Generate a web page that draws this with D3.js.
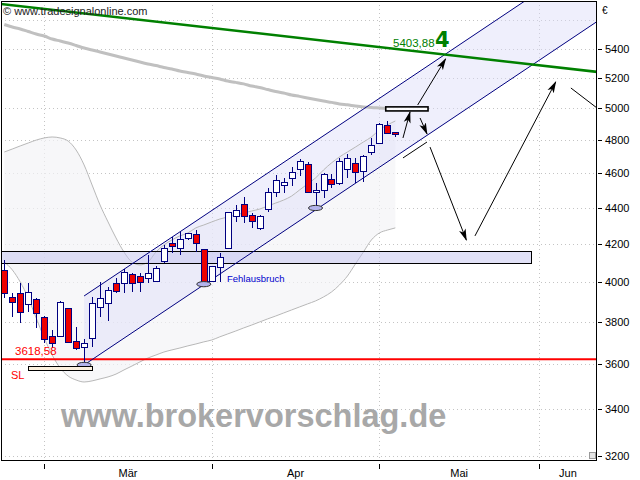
<!DOCTYPE html>
<html><head><meta charset="utf-8">
<script src="https://cdn.jsdelivr.net/npm/d3@7"></script>
<style>body{margin:0;background:#fff;}svg{display:block;}</style>
</head><body><svg id="chart" width="640" height="480"></svg>
<script>
// ---------- DATA ----------
const opens  = [4064,3925,3945,3890,3915,3825,3734,3734,3870,3709,3681,3724,3875,3895,3996,3996,4043,4032,4022,4006,4110,4207,4180,4234,4256,4174,4006,4079,4180,4355,4423,4361,4289,4394,4491,4532,4573,4626,4656,4491,4503,4567,4543,4626,4662,4614,4728,4783,4895,4851];
const highs  = [4116,3945,3996,3996,3920,3830,3762,3905,3872,3777,3719,3925,4001,3975,4022,4069,4048,4048,4143,4084,4196,4240,4266,4263,4277,4176,4086,4153,4380,4417,4463,4372,4361,4514,4591,4573,4638,4686,4668,4543,4602,4597,4692,4716,4692,4710,4814,4907,4920,4851];
const lows   = [3920,3825,3796,3850,3772,3700,3676,3729,3700,3667,3597,3681,3825,3806,3945,3945,3950,3950,3996,4001,4100,4153,4143,4223,4158,3986,4003,4001,4178,4322,4316,4289,4280,4377,4463,4486,4526,4585,4486,4400,4457,4514,4532,4573,4543,4549,4710,4783,4839,4820];
const closes = [3945,3900,3850,3950,3845,3719,3700,3900,3705,3676,3700,3895,3920,3960,3955,4053,3996,4001,4048,4074,4180,4190,4229,4261,4207,3996,4084,4132,4377,4389,4355,4327,4355,4491,4561,4549,4608,4674,4491,4503,4597,4538,4674,4692,4608,4704,4771,4901,4845,4839];
const movingAvg = [5569,5551,5537,5519,5501,5487,5466,5452,5438,5421,5403,5390,5376,5362,5348,5334,5321,5307,5294,5283,5270,5260,5246,5236,5226,5213,5203,5193,5179,5170,5160,5146,5136,5123,5110,5100,5087,5078,5068,5058,5048,5039,5029,5023,5016,5010,5006,5003,5000];
const bandUpper = [4728,4746,4765,4783,4801,4814,4820,4814,4795,4740,4650,4532,4417,4322,4234,4158,4105,4090,4105,4158,4196,4223,4245,4261,4289,4305,4322,4338,4349,4361,4372,4383,4394,4411,4428,4445,4468,4503,4538,4573,4620,4662,4698,4728,4758,4789,4820,4864,4895,4920];
const bandLower = [4105,4064,4001,3920,3820,3724,3643,3583,3546,3528,3519,3524,3533,3542,3555,3574,3592,3611,3629,3643,3657,3667,3676,3686,3695,3705,3714,3729,3743,3757,3772,3786,3801,3816,3830,3845,3860,3875,3890,3905,3925,3950,3986,4032,4095,4158,4223,4261,4277,4289];
const monthTickIdx = [5,26,47,67];
const monthLabels = ["Mär","Apr","Mai","Jun"];
const priceTicks = [3200,3400,3600,3800,4000,4200,4400,4600,4800,5000,5200,5400];
const gridExtra = [5600];
const lastIndexDomain = [0,49];
// annotations in (index, value)
const stopLoss = 3618.58;
const stopLossBox = [[2.97,3592],[10.99,3574]];
const resistanceZone = [[-2,4165],[66,4102]];
const channelUpper = [[10,3930],[74.3,6108]];
const channelLower = [[10,3597],[74.3,5591]];
const trendGreen = [[-0.45,5718],[74.3,5240]];
const targetBox = [[47.8,5010],[53.1,4984]];
const lowMarks = [[10,3597],[25,3990],[39,4400]];
const arrows = [
  [[51.8,5022],[55.3,5328]],
  [[49.96,4814],[50.84,4977]],
  [[52.1,4939],[52.97,4839]],
  [[53.35,4758],[57.9,4223]],
  [[58.98,4245],[69.1,5173]]
];
const plainLines = [
  [[49.96,4692],[52.97,4789]],
  [[71.0,5133],[74.6,4990]]
];
const targetLabel = "5403,88";
const waveLabel = "4";

// ---------- SCALES ----------
const W=640,H=480;
const plot={l:1,t:1,r:597,b:460};
const x = d3.scaleLinear().domain(lastIndexDomain).range([4.3, 4.3+7.98*49]);
const y = d3.scaleLog().domain([3200,5400]).range([456,48.5]);

const svg = d3.select("#chart");
svg.append("rect").attr("width",W).attr("height",H).attr("fill","#fff");
const defs = svg.append("defs");
defs.append("clipPath").attr("id","clip").append("rect")
  .attr("x",plot.l).attr("y",plot.t).attr("width",plot.r-plot.l).attr("height",plot.b-plot.t);
defs.append("marker").attr("id","ah").attr("viewBox","0 0 12 8").attr("refX",11).attr("refY",4)
  .attr("markerWidth",12).attr("markerHeight",8).attr("markerUnits","userSpaceOnUse").attr("orient","auto")
  .append("path").attr("d","M0,0.5 L12,4 L0,7.5 L3,4 Z").attr("fill","#000");

const g = svg.append("g").attr("clip-path","url(#clip)");

// grid
const gridVals = priceTicks.concat(gridExtra);
g.selectAll(".hg").data(gridVals).enter().append("line")
  .attr("x1",plot.l).attr("x2",plot.r)
  .attr("y1",d=>Math.round(y(d))+0.5).attr("y2",d=>Math.round(y(d))+0.5)
  .attr("stroke","#c4c4c4").attr("stroke-dasharray","1,3");
g.selectAll(".vg").data(monthTickIdx).enter().append("line")
  .attr("y1",plot.t).attr("y2",plot.b)
  .attr("x1",d=>Math.round(x(d))+0.5).attr("x2",d=>Math.round(x(d))+0.5)
  .attr("stroke","#c4c4c4").attr("stroke-dasharray","1,3");

// bollinger fill
const idx = d3.range(bandUpper.length);
g.append("path").datum(idx)
  .attr("d", d3.area().x(i=>x(i)).y0(i=>y(bandLower[i])).y1(i=>y(bandUpper[i])).curve(d3.curveMonotoneX))
  .attr("fill","#f4f4f7").attr("opacity",0.7);

// channel fill
const chPoly = [channelUpper[0],channelUpper[1],channelLower[1],channelLower[0]];
g.append("path")
  .attr("d", "M"+chPoly.map(p=>[x(p[0]),y(p[1])].join(",")).join("L")+"Z")
  .attr("fill","#dcdcf8").attr("opacity",0.45);

// band lines
[bandUpper,bandLower].forEach(arr=>{
  g.append("path").datum(idx)
    .attr("d", d3.line().x(i=>x(i)).y(i=>y(arr[i])).curve(d3.curveMonotoneX))
    .attr("fill","none").attr("stroke","#b8b8b8").attr("stroke-width",1);
});

// resistance zone
g.append("rect")
  .attr("x",Math.round(x(resistanceZone[0][0]))+0.5)
  .attr("y",Math.round(y(resistanceZone[0][1]))+0.5)
  .attr("width",Math.round(x(resistanceZone[1][0]))-Math.round(x(resistanceZone[0][0])))
  .attr("height",Math.round(y(resistanceZone[1][1]))-Math.round(y(resistanceZone[0][1])))
  .attr("fill","#c4c4f0").attr("fill-opacity",0.5).attr("stroke","#000").attr("stroke-width",1);

// moving average
g.append("path").datum(d3.range(movingAvg.length))
  .attr("d", d3.line().x(i=>x(i)).y(i=>y(movingAvg[i])).curve(d3.curveMonotoneX))
  .attr("fill","none").attr("stroke","#c0c0c0").attr("stroke-width",3);

// stop loss line
g.append("line").attr("x1",plot.l).attr("x2",plot.r)
  .attr("y1",y(stopLoss)-1).attr("y2",y(stopLoss)-1)
  .attr("stroke","#ff0000").attr("stroke-width",2);

// channel lines
[channelUpper,channelLower].forEach(l=>{
  g.append("line").attr("x1",x(l[0][0])).attr("y1",y(l[0][1]))
    .attr("x2",x(l[1][0])).attr("y2",y(l[1][1]))
    .attr("stroke","#000080").attr("stroke-width",1);
});

// candles
const cg = g.append("g");
opens.forEach((o,i)=>{
  const cx = Math.round(x(i))+0.5;
  const c = closes[i];
  cg.append("line").attr("x1",cx).attr("x2",cx)
    .attr("y1",Math.round(y(highs[i]))).attr("y2",Math.round(y(lows[i])))
    .attr("stroke","#000080").attr("stroke-width",1);
  const top = Math.round(y(Math.max(o,c)));
  const bot = Math.round(y(Math.min(o,c)));
  cg.append("rect").attr("x",cx-3).attr("y",top+0.5)
    .attr("width",6).attr("height",Math.max(bot-top,1))
    .attr("fill", c<o ? "#ee0000" : "#ffffff")
    .attr("stroke","#000080").attr("stroke-width",1);
});

// low marks (ellipses)
g.selectAll(".lm").data(lowMarks).enter().append("ellipse")
  .attr("cx",d=>x(d[0])).attr("cy",d=>y(d[1]))
  .attr("rx",7).attr("ry",2.6)
  .attr("fill","#b4b4ec").attr("stroke","#333").attr("stroke-width",1);

// stop loss box
g.append("rect")
  .attr("x",Math.round(x(stopLossBox[0][0]))+0.5).attr("y",Math.round(y(stopLossBox[0][1]))+0.5)
  .attr("width",Math.round(x(stopLossBox[1][0]))-Math.round(x(stopLossBox[0][0])))
  .attr("height",Math.round(y(stopLossBox[1][1]))-Math.round(y(stopLossBox[0][1])))
  .attr("fill","#fcf0de").attr("stroke","#000").attr("stroke-width",1);

// target box
g.append("rect")
  .attr("x",x(targetBox[0][0])).attr("y",y(targetBox[0][1]))
  .attr("width",x(targetBox[1][0])-x(targetBox[0][0]))
  .attr("height",y(targetBox[1][1])-y(targetBox[0][1]))
  .attr("fill","#ffffff").attr("fill-opacity",0.85).attr("stroke","#000").attr("stroke-width",1.6);

// arrows
arrows.forEach(a=>{
  g.append("line").attr("x1",x(a[0][0])).attr("y1",y(a[0][1]))
    .attr("x2",x(a[1][0])).attr("y2",y(a[1][1]))
    .attr("stroke","#000").attr("stroke-width",1).attr("marker-end","url(#ah)");
});
plainLines.forEach(a=>{
  g.append("line").attr("x1",x(a[0][0])).attr("y1",y(a[0][1]))
    .attr("x2",x(a[1][0])).attr("y2",y(a[1][1]))
    .attr("stroke","#000").attr("stroke-width",1);
});

// green trend line
g.append("line").attr("x1",x(trendGreen[0][0])).attr("y1",y(trendGreen[0][1]))
  .attr("x2",x(trendGreen[1][0])).attr("y2",y(trendGreen[1][1]))
  .attr("stroke","#008000").attr("stroke-width",2.6);

// texts in plot
svg.append("text").attr("x",3).attr("y",15).text("© www.tradesignalonline.com")
  .attr("font-family","Liberation Sans, Arial, sans-serif").attr("font-size",11).attr("fill","#222");
svg.append("text").attr("x",15).attr("y",y(stopLoss)-5).text("3618,58")
  .attr("font-family","Liberation Sans, Arial, sans-serif").attr("font-size",11.5).attr("fill","#ff0000");
svg.append("text").attr("x",11).attr("y",379).text("SL")
  .attr("font-family","Liberation Sans, Arial, sans-serif").attr("font-size",11).attr("fill","#ff0000");
svg.append("text").attr("x",227).attr("y",282).text("Fehlausbruch")
  .attr("font-family","Liberation Sans, Arial, sans-serif").attr("font-size",9.5).attr("fill","#0000cc");
svg.append("text").attr("x",393).attr("y",47).text(targetLabel)
  .attr("font-family","Liberation Sans, Arial, sans-serif").attr("font-size",11.5).attr("fill","#008000");
svg.append("text").attr("x",435).attr("y",47).text(waveLabel)
  .attr("font-family","DejaVu Sans, sans-serif").attr("font-weight","bold").attr("font-size",21).attr("fill","#008000");
svg.append("text").attr("x",61).attr("y",427).text("www.brokervorschlag.de")
  .attr("font-family","Liberation Sans, Arial, sans-serif").attr("font-weight","bold").attr("font-size",32.5).attr("fill","#a8a8a8");

// frame
svg.append("rect").attr("x",plot.l+0.5).attr("y",plot.t+0.5)
  .attr("width",plot.r-plot.l-1).attr("height",plot.b-plot.t)
  .attr("fill","none").attr("stroke","#000").attr("stroke-width",1);
svg.append("rect").attr("x",589.5).attr("y",452.5).attr("width",6).attr("height",6)
  .attr("fill","#e4e4e4").attr("stroke","#999");

// right axis
const ya = svg.append("g").attr("transform",`translate(${plot.r},0)`);
ya.selectAll("line").data(priceTicks).enter().append("line")
  .attr("x1",1).attr("x2",5).attr("y1",d=>Math.round(y(d))+0.5).attr("y2",d=>Math.round(y(d))+0.5)
  .attr("stroke","#000");
ya.selectAll("text").data(priceTicks).enter().append("text")
  .attr("x",8).attr("y",d=>y(d)+4).text(d=>d)
  .attr("font-family","Liberation Sans, Arial, sans-serif").attr("font-size",11).attr("fill","#000");
svg.append("text").attr("x",602).attr("y",14).text("€")
  .attr("font-family","Liberation Sans, Arial, sans-serif").attr("font-size",10).attr("fill","#000");

// bottom axis
const xa = svg.append("g");
xa.selectAll("line").data(monthTickIdx).enter().append("line")
  .attr("x1",d=>Math.round(x(d))+0.5).attr("x2",d=>Math.round(x(d))+0.5)
  .attr("y1",464).attr("y2",469).attr("stroke","#000");
xa.selectAll("text").data(monthTickIdx).enter().append("text")
  .attr("x",(d,i)=>{const a=x(d); const b=i+1<monthTickIdx.length?x(monthTickIdx[i+1]):plot.r; return (a+Math.min(b,plot.r))/2;})
  .attr("y",477).attr("text-anchor","middle").text((d,i)=>monthLabels[i])
  .attr("font-family","Liberation Sans, Arial, sans-serif").attr("font-size",11).attr("fill","#000");
</script></body></html>
